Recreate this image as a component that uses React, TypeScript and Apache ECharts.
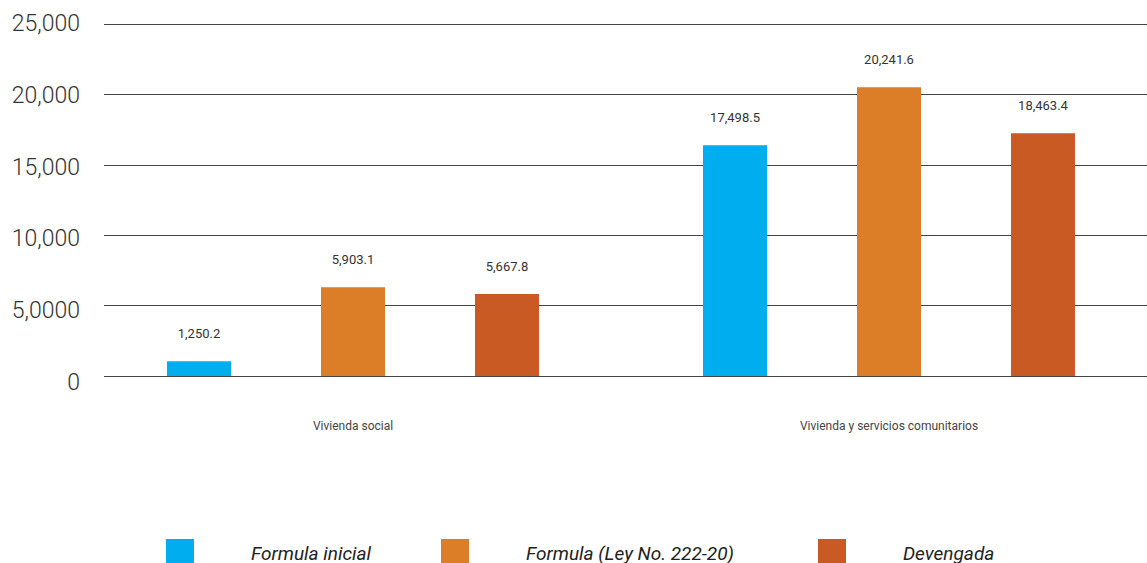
import React, { useEffect, useRef } from "react";
import * as echarts from "echarts";

const categories = ["Vivienda social", "Vivienda y servicios comunitarios"];
const seriesNames = ["Formula inicial", "Formula (Ley No. 222-20)", "Devengada"];
// bar heights as drawn in the picture
const formulaInicial = [1045, 16390];
const formulaLey = [6300, 20500];
const devengada = [5820, 17240];
// printed value labels
const labelsInicial = ["1,250.2", "17,498.5"];
const labelsLey = ["5,903.1", "20,241.6"];
const labelsDevengada = ["5,667.8", "18,463.4"];
const yTickLabels = ["0", "5,0000", "10,000", "15,000", "20,000", "25,000"];

const colors = ["#00AEEF", "#DC7D28", "#C95A23"];
const FONT = "Roboto, 'Noto Sans', sans-serif";

export default function App() {
  const ref = useRef<HTMLDivElement>(null);

  useEffect(() => {
    if (!ref.current) return;
    const chart = echarts.init(ref.current, undefined, { renderer: "svg" });
    const values = [formulaInicial, formulaLey, devengada];
    const labels = [labelsInicial, labelsLey, labelsDevengada];
    const legendLefts = [166, 441, 818];

    chart.setOption({
      animation: false,
      textStyle: { fontFamily: FONT },
      grid: [
        { left: 104, right: 13, top: 24, bottom: 187 },
        { left: 85, right: 3, top: 24, bottom: 187 },
        { left: 104, right: 13, top: 23.5, bottom: 180.5 },
      ],
      xAxis: [
        { type: "category", gridIndex: 0, data: categories, show: false },
        {
          type: "category",
          gridIndex: 1,
          data: categories,
          axisLine: { show: false },
          axisTick: { show: false },
          axisLabel: { color: "#444", fontSize: 12, margin: 44, fontFamily: FONT },
        },
        { type: "category", gridIndex: 2, data: categories, show: false },
      ],
      yAxis: [
        {
          type: "value",
          gridIndex: 0,
          min: 0,
          max: 25000,
          interval: 5000,
          axisLine: { show: false },
          axisTick: { show: false },
          axisLabel: { show: false },
          splitLine: { show: true, lineStyle: { color: "#444", width: 1 } },
        },
        {
          type: "value",
          gridIndex: 1,
          min: 0,
          max: 25000,
          interval: 5000,
          show: false,
          splitLine: { show: false },
        },
        {
          type: "value",
          gridIndex: 2,
          min: 0,
          max: 25000,
          interval: 5000,
          axisLine: { show: false },
          axisTick: { show: false },
          splitLine: { show: false },
          axisLabel: {
            color: "#333",
            fontSize: 23,
            fontWeight: 300,
            margin: 24,
            fontFamily: FONT,
            formatter: (v: number) => yTickLabels[Math.round(v / 5000)] ?? "",
          },
        },
      ],
      legend: seriesNames.map((name, i) => ({
        data: [name],
        left: legendLefts[i],
        top: 539,
        padding: 0,
        itemWidth: 28,
        itemHeight: 28,
        icon: "rect",
        selectedMode: false,
        textStyle: {
          fontSize: 19,
          fontStyle: "italic",
          color: "#222",
          fontFamily: FONT,
          padding: [0, 0, 0, 52],
        },
      })),
      series: seriesNames.map((name, i) => ({
        name,
        type: "bar",
        xAxisIndex: 1,
        yAxisIndex: 1,
        barWidth: 64,
        barGap: "140.6%",
        itemStyle: { color: colors[i] },
        data: values[i],
        label: {
          show: true,
          position: "top",
          distance: 21,
          color: "#333",
          fontSize: 13,
          fontFamily: FONT,
          formatter: (p: any) => labels[i][p.dataIndex],
        },
      })),
    });
    return () => chart.dispose();
  }, []);

  return (
    <div
      ref={ref}
      style={{ position: "fixed", left: 0, top: 0, width: 1160, height: 563, background: "#fff" }}
    />
  );
}
